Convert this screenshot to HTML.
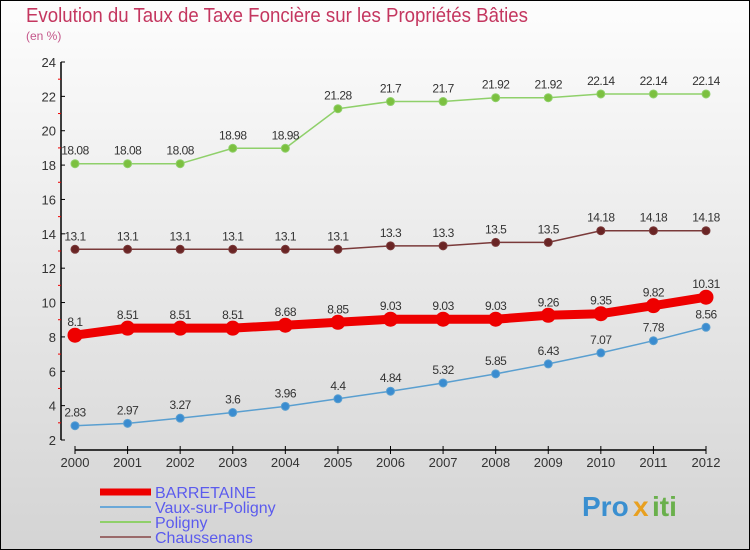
<!DOCTYPE html>
<html><head><meta charset="utf-8"><style>
body{margin:0;}
#c{position:relative;width:750px;height:550px;overflow:hidden;}
svg{position:absolute;left:0;top:0;font-family:"Liberation Sans",sans-serif;}
</style></head><body>
<div id="c">
<svg id="s" width="750" height="550" xmlns="http://www.w3.org/2000/svg">
<defs><linearGradient id="bg" x1="0" y1="0" x2="0" y2="1"><stop offset="0" stop-color="#fdfdfd"/><stop offset="1" stop-color="#d4d4d4"/></linearGradient></defs>
<rect x="0.5" y="0.5" width="749" height="549" fill="url(#bg)" stroke="#000"/>
<text x="26" y="22" font-size="20" fill="#c4365f" textLength="502" lengthAdjust="spacingAndGlyphs">Evolution du Taux de Taxe Foncière sur les Propriétés Bâties</text>
<text x="26" y="40" font-size="12" fill="#c4568a">(en %)</text>
<g id="axes"></g><g id="series"></g><g id="legend"></g>
<g font-size="28" font-weight="bold">
<text x="582" y="516" fill="#3a8fd0">Pro</text><text x="633" y="516" fill="#e8a020">x</text><text x="652" y="516" fill="#6ab04c">iti</text>
</g>
</svg></div>
<script>
const years=[2000,2001,2002,2003,2004,2005,2006,2007,2008,2009,2010,2011,2012];
const barretaine=[8.1,8.51,8.51,8.51,8.68,8.85,9.03,9.03,9.03,9.26,9.35,9.82,10.31];
const vaux=[2.83,2.97,3.27,3.6,3.96,4.4,4.84,5.32,5.85,6.43,7.07,7.78,8.56];
const poligny=[18.08,18.08,18.08,18.98,18.98,21.28,21.7,21.7,21.92,21.92,22.14,22.14,22.14];
const chauss=[13.1,13.1,13.1,13.1,13.1,13.1,13.3,13.3,13.5,13.5,14.18,14.18,14.18];
const yTicks=[2,4,6,8,10,12,14,16,18,20,22,24];
const NS="http://www.w3.org/2000/svg";
const X=i=>75+i*(706-75)/(years.length-1);
const Y=v=>440-(v-2)*(378/22);
function mk(p,t,a){const e=document.createElementNS(NS,t);for(const k in a)e.setAttribute(k,a[k]);p.appendChild(e);return e;}
const ax=document.getElementById('axes');
let l=mk(ax,'line',{x1:61,y1:Y(24),x2:61,y2:Y(2),stroke:'#000','stroke-width':1.5});


yTicks.forEach(v=>{mk(ax,'line',{x1:61,y1:Y(v),x2:65,y2:Y(v),stroke:'#000'});
mk(ax,'line',{x1:58,y1:Y(v+1),x2:61,y2:Y(v+1),stroke:v<24?'#e00':'none'});
const t=mk(ax,'text',{x:56,y:Y(v)+5,'text-anchor':'end','font-size':13,fill:'#333'});t.textContent=v;

});
l=mk(ax,'line',{x1:X(0),y1:450,x2:X(12),y2:450,stroke:'#000','stroke-width':1.5});


years.forEach((y,i)=>{mk(ax,'line',{x1:X(i),y1:446,x2:X(i),y2:454,stroke:'#000'});
const t=mk(ax,'text',{x:X(i),y:467,'text-anchor':'middle','font-size':13,fill:'#333'});t.textContent=y;

});
const sg=document.getElementById('series');
function series(vals,name,color,dot,w,r){
const g=mk(sg,'g',{});


mk(g,'polyline',{points:vals.map((v,i)=>X(i)+','+Y(v)).join(' '),fill:'none',stroke:color,'stroke-width':w,'stroke-linejoin':'round'});
vals.forEach((v,i)=>{const c=mk(g,'circle',{cx:X(i),cy:Y(v),r:r,fill:dot,stroke:color,'stroke-width':1});


const t=mk(g,'text',{x:X(i),y:Y(v)-9,'text-anchor':'middle','font-size':12,fill:'#333','letter-spacing':'-0.5'});t.textContent=v;

});}
series(poligny,'poligny','#8fd06a','#7cc040',1.5,4);
series(chauss,'chaussenans','#7a3a3a','#6a2525',1.5,4);
series(vaux,'vaux-sur-poligny','#5a9fd0','#3a8cd0',1.5,4);
series(barretaine,'barretaine','#ee0000','#ee0000',9,7);
const lg=document.getElementById('legend');
[['BARRETAINE','#ee0000',7],['Vaux-sur-Poligny','#6aa8d8',2],['Poligny','#8fd06a',2],['Chaussenans','#9a6a6a',2]].forEach((d,i)=>{
const g=mk(lg,'g',{});


const y=492+i*15;
mk(g,'line',{x1:100,y1:y,x2:151,y2:y,stroke:d[1],'stroke-width':d[2]});
const t=mk(g,'text',{x:155,y:y+6,'font-size':16,fill:'#5b5bee'});t.textContent=d[0];});
</script>
</body></html>
